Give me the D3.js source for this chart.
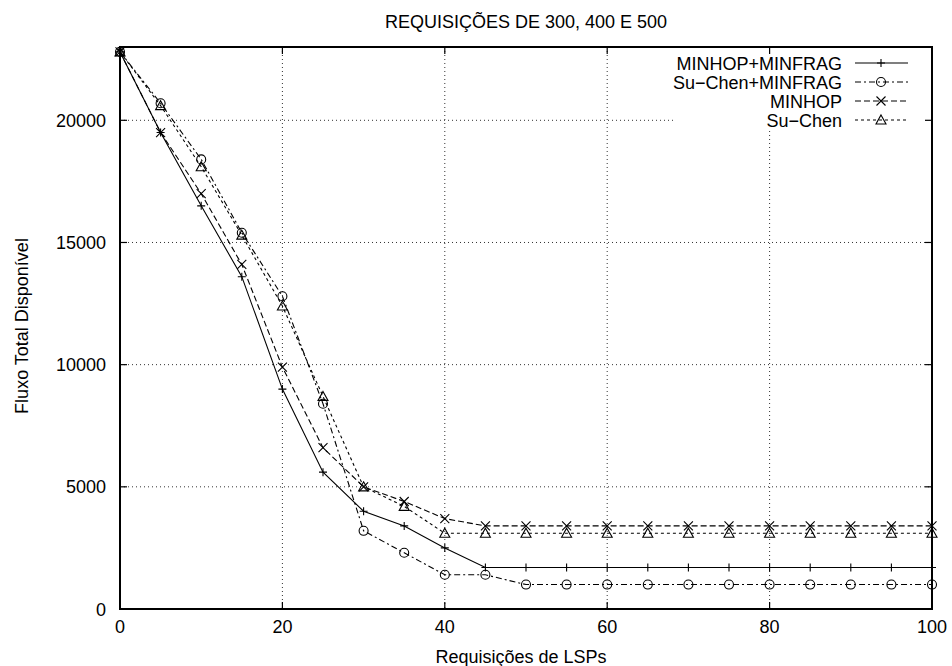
<!DOCTYPE html>
<html>
<head>
<meta charset="utf-8">
<script src="https://cdn.jsdelivr.net/npm/d3@7"></script>
<style>
  body { margin: 0; background: #fff; }
  text { font-family: "Liberation Sans", Arial, Helvetica, sans-serif; fill: #000; }
</style>
</head>
<body>
<div id="app"></div>
<script>
(function (d3) {
  'use strict'

  // data
  const requisicoes = [0, 5, 10, 15, 20, 25, 30, 35, 40, 45, 50, 55, 60, 65, 70, 75, 80, 85, 90, 95, 100]
  const minhopMinfrag = [22800, 19500, 16500, 13600, 9000, 5600, 4000, 3400, 2500, 1700, 1700, 1700, 1700, 1700, 1700, 1700, 1700, 1700, 1700, 1700, 1700]
  const suChenMinfrag = [22800, 20700, 18400, 15400, 12800, 8400, 3200, 2300, 1400, 1400, 1000, 1000, 1000, 1000, 1000, 1000, 1000, 1000, 1000, 1000, 1000]
  const minhop = [22800, 19500, 17000, 14100, 9900, 6600, 5000, 4400, 3700, 3400, 3400, 3400, 3400, 3400, 3400, 3400, 3400, 3400, 3400, 3400, 3400]
  const suChen = [22800, 20600, 18100, 15300, 12400, 8700, 5000, 4200, 3100, 3100, 3100, 3100, 3100, 3100, 3100, 3100, 3100, 3100, 3100, 3100, 3100]

  const xTicks = [0, 20, 40, 60, 80, 100]
  const yTicks = [0, 5000, 10000, 15000, 20000]
  const seriesNames = ['MINHOP+MINFRAG', 'Su\u2212Chen+MINFRAG', 'MINHOP', 'Su\u2212Chen']

  const w = 952
  const h = 666
  const left = 120, right = 932, top = 47, bottom = 609

  const series = [
    { name: seriesNames[0], values: minhopMinfrag, dash: null, marker: 'plus' },
    { name: seriesNames[1], values: suChenMinfrag, dash: '6,3,2,3', marker: 'circle' },
    { name: seriesNames[2], values: minhop, dash: '6,3', marker: 'cross' },
    { name: seriesNames[3], values: suChen, dash: '3,3', marker: 'triangle' }
  ]

  const x = d3.scaleLinear().domain([0, 100]).range([left, right])
  const y = d3.scaleLinear().domain([0, 23000]).range([bottom, top])

  const svg = d3.select('#app')
    .append('svg')
    .attr('width', w)
    .attr('height', h)

  // grid
  const grid = svg.append('g')
  grid.selectAll('.gx')
    .data(xTicks.slice(1, -1))
    .enter()
    .append('line')
    .attr('x1', d => x(d)).attr('x2', d => x(d))
    .attr('y1', top).attr('y2', bottom)
  grid.selectAll('.gy')
    .data(yTicks.slice(1))
    .enter()
    .append('line')
    .attr('x1', left).attr('x2', right)
    .attr('y1', d => y(d)).attr('y2', d => y(d))
  grid.selectAll('line')
    .attr('stroke', '#333')
    .attr('stroke-width', 1)
    .attr('stroke-dasharray', '1,3')

  // key box blanks the grid behind it
  svg.append('rect')
    .attr('x', 674).attr('y', top + 1)
    .attr('width', right - 674).attr('height', 81)
    .attr('fill', '#fff')

  // ticks on all four sides, pointing inward
  const ticks = svg.append('g').attr('stroke', '#000').attr('stroke-width', 1.2)
  xTicks.forEach(function (t) {
    ticks.append('line').attr('x1', x(t)).attr('x2', x(t)).attr('y1', bottom).attr('y2', bottom - 7)
    ticks.append('line').attr('x1', x(t)).attr('x2', x(t)).attr('y1', top).attr('y2', top + 7)
  })
  yTicks.forEach(function (t) {
    ticks.append('line').attr('x1', left).attr('x2', left + 7).attr('y1', y(t)).attr('y2', y(t))
    ticks.append('line').attr('x1', right).attr('x2', right - 7).attr('y1', y(t)).attr('y2', y(t))
  })

  // tick labels
  svg.append('g')
    .selectAll('text')
    .data(xTicks)
    .enter()
    .append('text')
    .attr('x', d => x(d))
    .attr('y', 633)
    .attr('text-anchor', 'middle')
    .style('font-size', '18px')
    .text(d => d)
  svg.append('g')
    .selectAll('text')
    .data(yTicks)
    .enter()
    .append('text')
    .attr('x', 106)
    .attr('y', d => y(d) + 6.5)
    .attr('text-anchor', 'end')
    .style('font-size', '18px')
    .text(d => d)

  // series
  const line = d3.line()
    .x((d, i) => x(requisicoes[i]))
    .y(d => y(d))

  const drawMarker = function (g, type, cx, cy) {
    if (type === 'plus') {
      g.append('path').attr('d', `M${cx - 4},${cy}H${cx + 4}M${cx},${cy - 4}V${cy + 4}`)
    } else if (type === 'cross') {
      g.append('path').attr('d', `M${cx - 4.5},${cy - 4.5}L${cx + 4.5},${cy + 4.5}M${cx - 4.5},${cy + 4.5}L${cx + 4.5},${cy - 4.5}`)
    } else if (type === 'circle') {
      g.append('circle').attr('cx', cx).attr('cy', cy).attr('r', 4.5)
    } else {
      g.append('path').attr('d', `M${cx},${cy - 5}L${cx + 5},${cy + 4}L${cx - 5},${cy + 4}Z`)
    }
  }

  series.forEach(function (s) {
    const g = svg.append('g')
    g.append('path')
      .datum(s.values)
      .attr('d', line)
      .attr('fill', 'none')
      .attr('stroke', '#000')
      .attr('stroke-width', 1.1)
      .attr('stroke-dasharray', s.dash)
    const mg = g.append('g').attr('fill', 'none').attr('stroke', '#000').attr('stroke-width', 1.1)
    s.values.forEach(function (v, i) {
      drawMarker(mg, s.marker, x(requisicoes[i]), y(v))
    })
  })

  // border
  svg.append('rect')
    .attr('x', left).attr('y', top)
    .attr('width', right - left).attr('height', bottom - top)
    .attr('fill', 'none')
    .attr('stroke', '#000')
    .attr('stroke-width', 2)

  // key
  const key = svg.append('g')
  series.forEach(function (s, i) {
    const ky = 63 + i * 19
    key.append('text')
      .attr('x', 842)
      .attr('y', ky + 6.5)
      .attr('text-anchor', 'end')
      .style('font-size', '18px')
      .text(s.name)
    key.append('line')
      .attr('x1', 855).attr('x2', 908)
      .attr('y1', ky).attr('y2', ky)
      .attr('stroke', '#000')
      .attr('stroke-width', 1.1)
      .attr('stroke-dasharray', s.dash)
    const mg = key.append('g').attr('fill', 'none').attr('stroke', '#000').attr('stroke-width', 1.1)
    drawMarker(mg, s.marker, 881, ky)
  })

  // titles
  svg.append('text')
    .attr('x', 526).attr('y', 28)
    .attr('text-anchor', 'middle')
    .style('font-size', '18px')
    .text('REQUISIÇÕES DE 300, 400 E 500')
  svg.append('text')
    .attr('x', 521).attr('y', 663)
    .attr('text-anchor', 'middle')
    .style('font-size', '18px')
    .text('Requisições de LSPs')
  svg.append('text')
    .attr('transform', 'translate(28,326) rotate(-90)')
    .attr('text-anchor', 'middle')
    .style('font-size', '18px')
    .text('Fluxo Total Disponível')

}(d3))
</script>
</body>
</html>
